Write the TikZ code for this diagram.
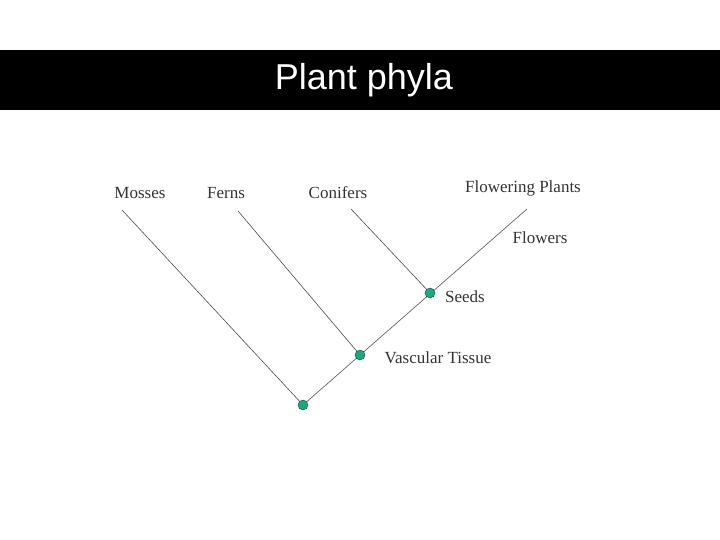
\documentclass[tikz,border=0pt]{standalone}
\usepackage{fontspec}
\setmainfont{Liberation Serif}
\newfontfamily\titlefont{Liberation Sans}
\definecolor{dotgreen}{HTML}{1FA67F}
\begin{document}
\begin{tikzpicture}[x=1pt,y=-1pt,
  lbl/.style={font=\fontsize{17}{19}\selectfont, text=black!80, inner sep=0pt},
  dot/.style={circle, fill=dotgreen, draw=teal!60!black, line width=0.4pt, minimum size=10pt, inner sep=0pt},
  br/.style={draw=black!70, line width=0.6pt}]
\useasboundingbox (0,0) rectangle (720,540);
\fill[black] (0,50) rectangle (720,110);
\node[text=white, font=\titlefont\fontsize{36}{40}\selectfont] (title) at (364,80) {Plant phyla};
\coordinate (mtop) at (122,210);
\coordinate (ftop) at (238,211);
\coordinate (ctop) at (351,209);
\coordinate (fptop) at (527,209);
\path[br] (mtop) -- (303,405) -- (fptop);
\path[br] (ftop) -- (360,355);
\path[br] (ctop) -- (430,293);
\node[dot] (root) at (303,405) {};
\node[dot] (vasc) at (360,355) {};
\node[dot] (seed) at (430,293) {};
\node[lbl] (l1) at (140,193) {Mosses};
\node[lbl] (l2) at (226,193) {Ferns};
\node[lbl] (l3) at (338,193) {Conifers};
\node[lbl] (l4) at (523,188) {Flowering Plants};
\node[lbl] (l5) at (540,238) {Flowers};
\node[lbl] (l6) at (465,297) {Seeds};
\node[lbl] (l7) at (438,358) {Vascular Tissue};
\end{tikzpicture}
\end{document}
